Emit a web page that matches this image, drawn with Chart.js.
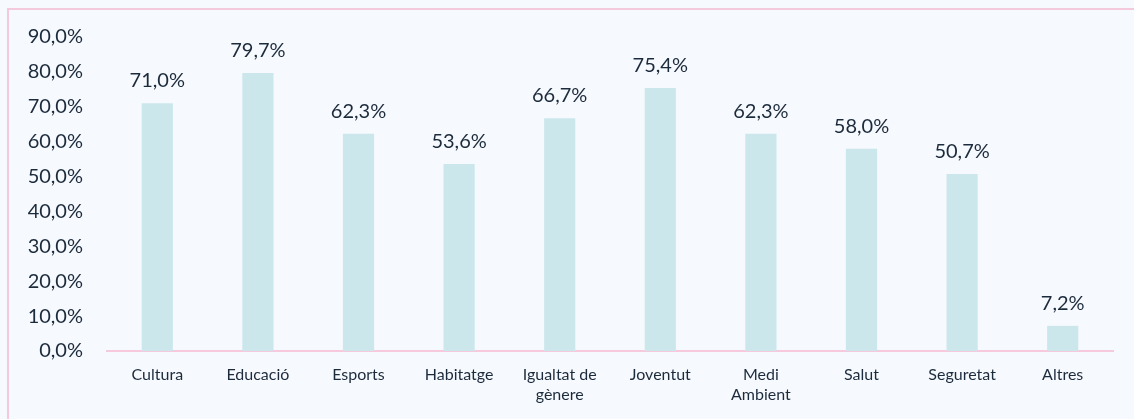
<!DOCTYPE html>
<html>
<head>
<meta charset="utf-8">
<script src="https://cdn.jsdelivr.net/npm/chart.js@4/dist/chart.umd.min.js"></script>
<style>
  html, body { margin: 0; padding: 0; background: #f6f9fd; }
  body { width: 1134px; height: 419px; position: relative; overflow: hidden; }
  .frame {
    position: absolute; left: 7px; top: 8px; width: 1140px; height: 420px;
    border-left: 2px solid #f5c9dc; border-top: 2px solid #f5c9dc;
  }
  canvas { position: absolute; left: 0; top: 0; }
</style>
</head>
<body>
<div class="frame"></div>
<canvas id="chart" width="1134" height="419"></canvas>
<script>
const categories = ['Cultura', 'Educació', 'Esports', 'Habitatge', ['Igualtat de', 'gènere'],
  'Joventut', ['Medi', 'Ambient'], 'Salut', 'Seguretat', 'Altres'];
const values = [71.0, 79.7, 62.3, 53.6, 66.7, 75.4, 62.3, 58.0, 50.7, 7.2];
const yTicks = [0, 10, 20, 30, 40, 50, 60, 70, 80, 90];

const textColor = '#1c2b3c';
const fmt = v => v.toFixed(1).replace('.', ',') + '%';

// value labels above each bar
const barLabels = {
  id: 'barLabels',
  afterDatasetsDraw(chart) {
    const ctx = chart.ctx;
    const meta = chart.getDatasetMeta(0);
    ctx.save();
    ctx.font = '20px Lato';
    ctx.fillStyle = textColor;
    ctx.textAlign = 'center';
    ctx.textBaseline = 'alphabetic';
    meta.data.forEach((bar, i) => {
      ctx.fillText(fmt(values[i]), bar.x, bar.y - 16);
    });
    ctx.restore();
  }
};

const ctx = document.getElementById('chart').getContext('2d');
new Chart(ctx, {
  type: 'bar',
  data: {
    labels: categories,
    datasets: [{
      data: values,
      backgroundColor: '#cce7ec',
      borderWidth: 0,
      categoryPercentage: 1,
      barPercentage: 0.31,
    }],
  },
  options: {
    responsive: false,
    animation: false,
    layout: { padding: { left: 0, top: 37, right: 21, bottom: 0 } },
    plugins: {
      legend: { display: false },
      tooltip: { enabled: false },
    },
    scales: {
      x: {
        grid: { display: false, drawTicks: false },
        border: { display: true, color: '#f6cadc', width: 2 },
        ticks: {
          color: textColor,
          font: { family: 'Lato', size: 16, lineHeight: 1.3 },
          padding: 13,
          maxRotation: 0,
          autoSkip: false,
        },
        afterFit(scale) { scale.height = 68; },
      },
      y: {
        min: 0,
        max: 90,
        afterBuildTicks(scale) { scale.ticks = yTicks.map(v => ({ value: v })); },
        grid: { display: false, drawTicks: false },
        border: { display: false },
        ticks: {
          color: textColor,
          font: { family: 'Lato', size: 20 },
          padding: 24,
          callback: v => fmt(v),
        },
        afterFit(scale) { scale.width = 107; },
      },
    },
  },
  plugins: [barLabels],
});
</script>
</body>
</html>
